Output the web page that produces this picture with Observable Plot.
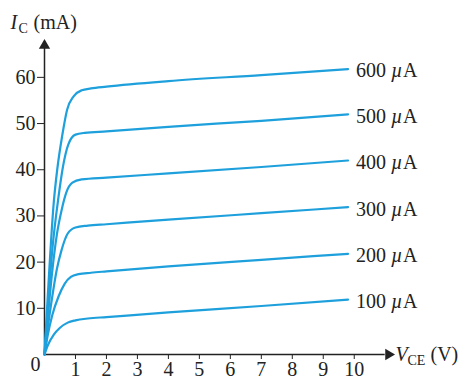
<!DOCTYPE html>
<html>
<head>
<meta charset="utf-8">
<script src="https://cdn.jsdelivr.net/npm/d3@7"></script>
<script src="https://cdn.jsdelivr.net/npm/@observablehq/plot@0.6"></script>
<style>
  html, body { margin: 0; padding: 0; background: #fff; }
</style>
</head>
<body>
<div id="chart"></div>
<script>
// Base currents (µA) labelling each curve
const baseCurrents = ["100", "200", "300", "400", "500", "600"];

// [V_CE (V), I_C (mA)] points, one array per curve
const curve100 = [[0,0],[0.1,1.9],[0.3,4.3],[0.5,5.8],[0.75,6.9],[1,7.4],[1.4,7.8],[2,8.1],[4,9.1],[7,10.5],[9.8,11.9]];
const curve200 = [[0,0],[0.1,4],[0.25,8.5],[0.45,12.5],[0.65,15.3],[0.85,16.8],[1.1,17.4],[1.5,17.7],[2,18.0],[4,19.1],[7,20.5],[9.8,21.8]];
const curve300 = [[0,0],[0.1,5.5],[0.25,12.5],[0.4,18.5],[0.55,22.6],[0.75,26.2],[1,27.5],[1.4,27.9],[2,28.2],[4,29.2],[7,30.6],[9.8,31.9]];
const curve400 = [[0,0],[0.1,7.5],[0.25,18],[0.4,26],[0.55,31.2],[0.7,35],[0.9,37.2],[1.2,37.9],[2,38.3],[4,39.2],[7,40.6],[9.8,42.0]];
const curve500 = [[0,0],[0.1,9.5],[0.25,22.5],[0.45,34],[0.6,40.8],[0.77,45.5],[1.0,47.6],[1.3,48.0],[2,48.3],[4,49.3],[7,50.6],[9.8,52.0]];
const curve600 = [[0,0],[0.1,12],[0.3,33],[0.41,40],[0.57,47.3],[0.73,53],[0.94,55.9],[1.2,57.2],[1.5,57.6],[2,58.0],[4,59.2],[7,60.5],[9.8,61.8]];

// Axis ticks
const xTicks = [1, 2, 3, 4, 5, 6, 7, 8, 9, 10];
const yTicks = [10, 20, 30, 40, 50, 60];
const xMax = 11.3;
const yMax = 68.2;

const curves = [curve100, curve200, curve300, curve400, curve500, curve600];
const rows = [];
curves.forEach((pts, i) => pts.forEach(([v, ic]) => rows.push({ib: baseCurrents[i], v, ic})));
const ends = curves.map((pts, i) => ({ib: baseCurrents[i], v: pts[pts.length - 1][0], ic: pts[pts.length - 1][1]}));

const font = "'Liberation Serif', 'Times New Roman', serif";
const ink = "#222";
const blue = "#1ea0dc";
const origin = [{x: 0, y: 0}];
const yTop = [{x: 0, y: yMax}];
const xEnd = [{x: xMax, y: 0}];

const chart = Plot.plot({
  width: 464,
  height: 376,
  marginLeft: 44,
  marginRight: 70,
  marginTop: 39,
  marginBottom: 22,
  style: {fontFamily: font, fontSize: "20px", color: ink, background: "#fff", overflow: "visible"},
  x: {domain: [0, xMax]},
  y: {domain: [0, yMax]},
  marks: [
    Plot.axisY({ticks: yTicks, tickSize: 7, tickPadding: 2, label: null, color: ink, fontSize: 20}),
    Plot.axisX({ticks: xTicks, tickSize: 5, tickPadding: 2, label: null, color: ink, fontSize: 20}),
    Plot.ruleX(origin, {x: "x", y1: 0, y2: yMax - 1.5, stroke: ink, strokeWidth: 1.5}),
    Plot.ruleY(origin, {y: "y", x1: 0, x2: xMax - 0.3, stroke: ink, strokeWidth: 1.5}),
    Plot.dot(yTop, {x: "x", y: "y", symbol: "triangle", r: 4.2, fill: ink, stroke: null, dy: 6}),
    Plot.dot(xEnd, {x: "x", y: "y", symbol: "triangle", r: 4.2, fill: ink, stroke: null, rotate: 90, dx: -6}),
    Plot.line(rows, {x: "v", y: "ic", z: "ib", curve: "monotone-x", stroke: blue, strokeWidth: 2.2}),
    // curve labels: "600 µA"
    Plot.text(ends, {x: "v", y: "ic", text: "ib", dx: 8, dy: 2, textAnchor: "start", fill: ink, fontSize: 20}),
    Plot.text(ends, {x: "v", y: "ic", text: () => "µ", dx: 43, dy: 2, textAnchor: "start", fill: ink, fontSize: 20, fontStyle: "italic"}),
    Plot.text(ends, {x: "v", y: "ic", text: () => "A", dx: 55, dy: 2, textAnchor: "start", fill: ink, fontSize: 20}),
    // origin label
    Plot.text(origin, {x: "x", y: "y", text: () => "0", dx: -9, dy: 10, fill: ink, fontSize: 20}),
    // y-axis title: I_C (mA)
    Plot.text(yTop, {x: "x", y: "y", text: () => "I", dx: -34, dy: -11, textAnchor: "start", lineAnchor: "bottom", fontStyle: "italic", fill: ink, fontSize: 20}),
    Plot.text(yTop, {x: "x", y: "y", text: () => "C", dx: -26, dy: -7, textAnchor: "start", lineAnchor: "bottom", fill: ink, fontSize: 14}),
    Plot.text(yTop, {x: "x", y: "y", text: () => "(mA)", dx: -11, dy: -11, textAnchor: "start", lineAnchor: "bottom", fill: ink, fontSize: 20}),
    // x-axis title: V_CE (V)
    Plot.text(origin, {x: "x", y: "y", text: () => "V", dx: 351, dy: 6, textAnchor: "start", lineAnchor: "bottom", fontStyle: "italic", fill: ink, fontSize: 20}),
    Plot.text(origin, {x: "x", y: "y", text: () => "CE", dx: 363, dy: 10, textAnchor: "start", lineAnchor: "bottom", fill: ink, fontSize: 14}),
    Plot.text(origin, {x: "x", y: "y", text: () => "(V)", dx: 386, dy: 6, textAnchor: "start", lineAnchor: "bottom", fill: ink, fontSize: 20})
  ]
});

document.getElementById("chart").append(chart);
</script>
</body>
</html>
